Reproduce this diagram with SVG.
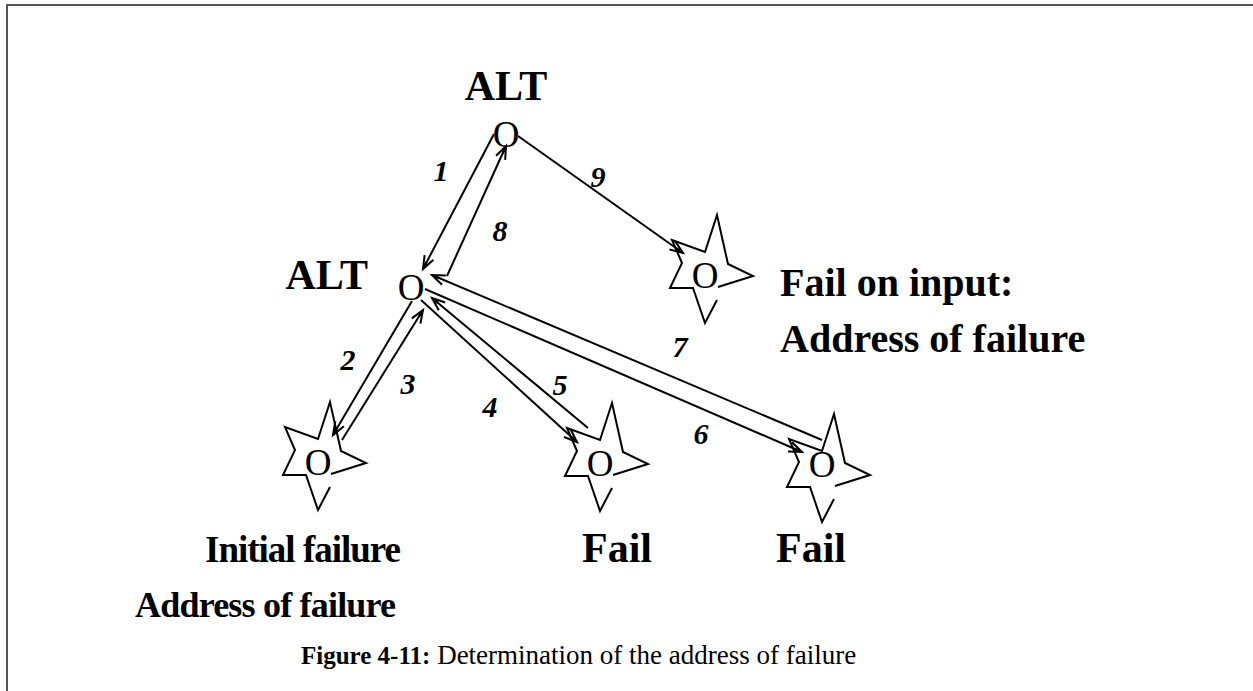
<svg xmlns="http://www.w3.org/2000/svg" width="1253" height="691" viewBox="0 0 1253 691">
<style>
.lbl{font-family:"Liberation Serif","Times New Roman",serif;font-weight:bold;font-size:40px;fill:#000}
.big{font-size:42px}
.o{font-family:"Liberation Serif","Times New Roman",serif;font-size:37px;fill:#000;text-anchor:middle}
.num{font-family:"Liberation Serif","Times New Roman",serif;font-weight:bold;font-style:italic;font-size:30px;fill:#000;text-anchor:middle}
.cap{font-family:"Liberation Serif","Times New Roman",serif;font-size:27px;fill:#000}
.capb{font-weight:bold;font-size:25px}
.star{fill:none;stroke:#000;stroke-width:2;stroke-linejoin:miter}
.edge{fill:none;stroke:#000;stroke-width:2;marker-end:url(#arr)}
</style>
<defs>
<marker id="arr" markerUnits="userSpaceOnUse" markerWidth="20" markerHeight="14" refX="14" refY="7" orient="auto">
<path d="M1,2 L14,7 L1,12 M6,7 L14,7" fill="none" stroke="#000" stroke-width="2"/>
</marker>
<polyline id="starShape" class="star" points="13,12 48,1 23,-11 12,-60 0,-23 -33,-35 -23,-12 -35,13 -12,13 0,48 12,25"/>
</defs>
<rect width="1253" height="691" fill="#fff"/>
<path d="M7,691 L7,5 L1253,5" fill="none" stroke="#555" stroke-width="2"/>

<g id="connectors">
<line class="edge" x1="494" y1="134" x2="423" y2="269"/>
<line class="edge" x1="447" y1="276" x2="506" y2="146"/>
<line class="edge" x1="518" y1="136" x2="683" y2="253"/>
<line class="edge" x1="412" y1="301" x2="333" y2="435"/>
<line class="edge" x1="342" y1="440" x2="423" y2="310"/>
<line class="edge" x1="421" y1="300" x2="577" y2="442"/>
<line class="edge" x1="588" y1="428" x2="432" y2="298"/>
<line class="edge" x1="425" y1="289" x2="802" y2="452"/>
<line class="edge" x1="822" y1="440" x2="432" y2="275"/>
</g>

<g id="labels-num">
<text class="num" x="441" y="181">1</text>
<text class="num" x="500" y="241">8</text>
<text class="num" x="598" y="187">9</text>
<text class="num" x="348" y="370">2</text>
<text class="num" x="408" y="394">3</text>
<text class="num" x="490" y="417">4</text>
<text class="num" x="560" y="395">5</text>
<text class="num" x="701" y="444">6</text>
<text class="num" x="680" y="357">7</text>
</g>

<g id="alt-top">
<text class="lbl big" x="506" y="100" text-anchor="middle">ALT</text>
<text class="o" x="506" y="147">O</text>
</g>

<g id="alt-mid">
<text class="lbl big" x="368" y="289" text-anchor="end">ALT</text>
<text class="o" x="411" y="300">O</text>
</g>

<g id="fail-input">
<use href="#starShape" x="705" y="275"/>
<text class="o" x="705" y="288">O</text>
<text class="lbl" x="780" y="296">Fail on input:</text>
<text class="lbl" x="780" y="352">Address of failure</text>
</g>

<g id="initial-failure">
<use href="#starShape" x="318" y="462"/>
<text class="o" x="318" y="475">O</text>
<text class="lbl" x="205" y="562" style="font-size:37px;letter-spacing:-1px">Initial failure</text>
<text class="lbl" x="135" y="617" style="font-size:36px;letter-spacing:-0.8px">Address of failure</text>
</g>

<g id="fail-mid">
<use href="#starShape" x="600" y="463"/>
<text class="o" x="600" y="476">O</text>
<text class="lbl big" x="617" y="562" text-anchor="middle">Fail</text>
</g>

<g id="fail-right">
<use href="#starShape" x="822" y="474"/>
<text class="o" x="822" y="477">O</text>
<text class="lbl big" x="811" y="562" text-anchor="middle">Fail</text>
</g>

<g id="caption">
<text class="cap" x="301" y="664"><tspan class="capb">Figure 4-11:</tspan>  Determination of the address of failure</text>
</g>
</svg>
